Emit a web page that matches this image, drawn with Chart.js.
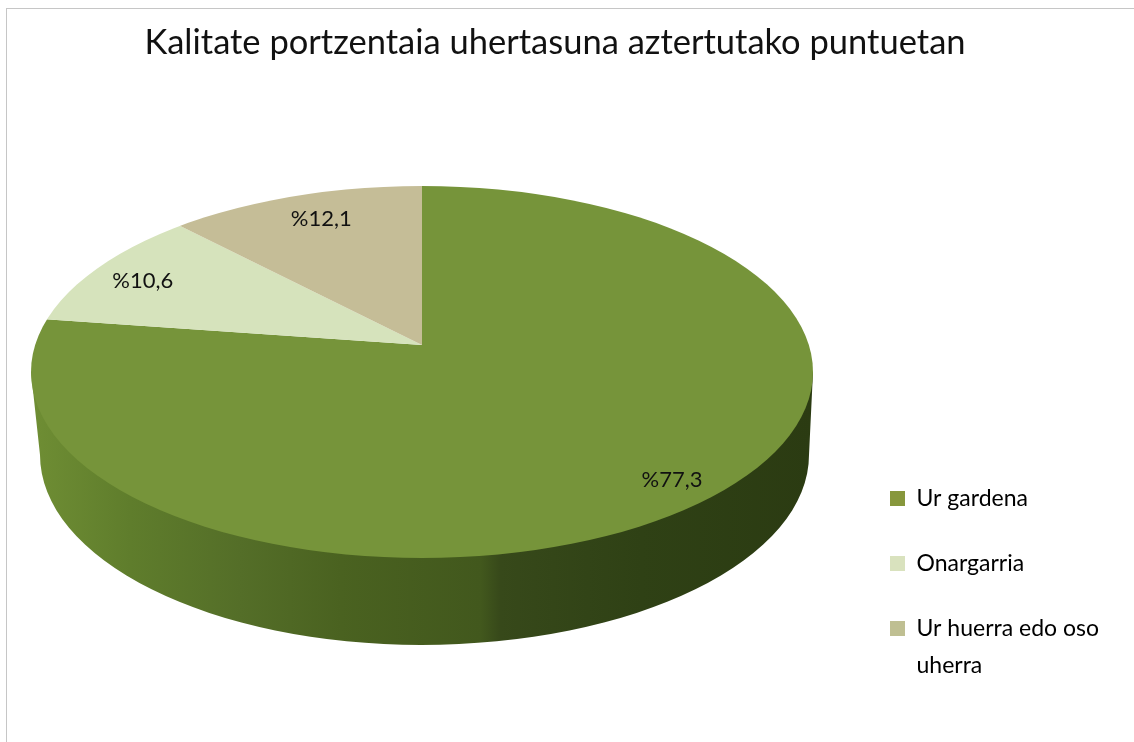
<!DOCTYPE html>
<html>
<head>
<meta charset="utf-8">
<style>html,body{margin:0;padding:0;background:#fff;overflow:hidden}canvas{display:block}</style>
<script src="https://cdn.jsdelivr.net/npm/chart.js@4/dist/chart.umd.min.js"></script>
</head>
<body>
<canvas id="c" width="1134" height="742"></canvas>
<script>
const titleText = 'Kalitate portzentaia uhertasuna aztertutako puntuetan';
const categories = ['Ur gardena', 'Onargarria', ['Ur huerra edo oso', 'uherra']];
const values = [77.3, 10.6, 12.1];
const sliceColors = ['#76943a', '#d6e3bc', '#c5bd97'];
const legendColors = ['#87973c', '#d9e2be', '#bfbf92'];
const labelReachX = [0.813, 0.669, 0.578];
const labelReachY = [0.811, 0.634, 0.618];

// 3D pie geometry
const apex = {x: 422, y: 345};
const top3d = {x: 422, y: 372, rx: 391, ry: 186};
const base3d = {x: 421, y: 455, rxLeft: 381, rxRight: 388, ry: 190};
const planeX = 470, planeY = 220;
const FONT = 'Lato, Carlito, Calibri, sans-serif';

const pie3d = {
  id: 'pie3d',
  afterLayout(chart) {
    chart.titleBlock.right = 1110;
    const l = chart.legend;
    l.left = 848; l.right = 1134; l.top = 445; l.bottom = 742;
  },
  beforeDraw(chart) {
    const ctx = chart.ctx;
    ctx.save();
    ctx.fillStyle = '#ffffff';
    ctx.fillRect(0, 0, chart.width, chart.height);
    ctx.fillStyle = '#c6c6c6';
    ctx.fillRect(6, 8, chart.width - 6, 1);
    ctx.fillRect(6, 8, 1, chart.height - 8);
    ctx.restore();
  },
  beforeDatasetsDraw(chart) {
    const ctx = chart.ctx;
    const arc = chart.getDatasetMeta(0).data[0];
    const R = arc.outerRadius;
    // side wall
    ctx.save();
    const x0 = top3d.x - top3d.rx, w = top3d.rx * 2;
    const g = ctx.createLinearGradient(x0, 0, x0 + w, 0);
    g.addColorStop(0, '#6f8e34');
    g.addColorStop(0.127, '#5f7d2c');
    g.addColorStop(0.267, '#546e28');
    g.addColorStop(0.396, '#4a6220');
    g.addColorStop(0.575, '#42581d');
    g.addColorStop(0.6, '#37491a');
    g.addColorStop(0.78, '#2f4115');
    g.addColorStop(1, '#2b3b12');
    ctx.fillStyle = g;
    ctx.beginPath();
    ctx.moveTo(top3d.x - top3d.rx, top3d.y);
    ctx.lineTo(base3d.x - base3d.rxLeft, base3d.y);
    ctx.ellipse(base3d.x, base3d.y, base3d.rxLeft, base3d.ry, 0, Math.PI, Math.PI / 2, true);
    ctx.ellipse(base3d.x, base3d.y, base3d.rxRight, base3d.ry, 0, Math.PI / 2, 0, true);
    ctx.lineTo(top3d.x + top3d.rx, top3d.y);
    ctx.closePath();
    ctx.fill();
    ctx.restore();
    // top face: chart's own arcs, flattened around the apex and clipped to the rim
    ctx.save();
    ctx.beginPath();
    ctx.ellipse(top3d.x, top3d.y, top3d.rx, top3d.ry, 0, 0, Math.PI * 2);
    ctx.clip();
    ctx.translate(apex.x, apex.y);
    ctx.scale(planeX / R, planeY / R);
    ctx.translate(-arc.x, -arc.y);
  },
  afterDatasetsDraw(chart) {
    const ctx = chart.ctx;
    ctx.restore();
    const arcs = chart.getDatasetMeta(0).data;
    ctx.save();
    ctx.fillStyle = '#111111';
    ctx.font = '22px ' + FONT;
    ctx.textAlign = 'center';
    ctx.textBaseline = 'middle';
    arcs.forEach((a, i) => {
      const mid = (a.startAngle + a.endAngle) / 2;
      const x = apex.x + Math.cos(mid) * planeX * labelReachX[i];
      const y = apex.y + Math.sin(mid) * planeY * labelReachY[i];
      ctx.fillText('%' + String(values[i]).replace('.', ','), x, y);
    });
    ctx.restore();
  }
};

new Chart(document.getElementById('c'), {
  type: 'pie',
  data: {
    labels: categories,
    datasets: [{data: values, backgroundColor: sliceColors, borderWidth: 0, hoverOffset: 0}]
  },
  options: {
    responsive: false,
    animation: false,
    layout: {padding: 0},
    plugins: {
      title: {
        display: true,
        text: titleText,
        color: '#111111',
        font: {family: FONT, size: 34.5, weight: 'normal'},
        padding: {top: 22, bottom: 10}
      },
      legend: {
        position: 'right',
        align: 'start',
        labels: {
          color: '#111111',
          boxWidth: 15,
          boxHeight: 15,
          padding: 42,
          font: {family: FONT, size: 23, lineHeight: 1.61},
          generateLabels: (chart) => categories.map((text, i) => ({
            text,
            fillStyle: legendColors[i],
            strokeStyle: legendColors[i],
            lineWidth: 0,
            index: i
          }))
        }
      },
      tooltip: {enabled: false}
    }
  },
  plugins: [pie3d]
});
</script>
</body>
</html>
